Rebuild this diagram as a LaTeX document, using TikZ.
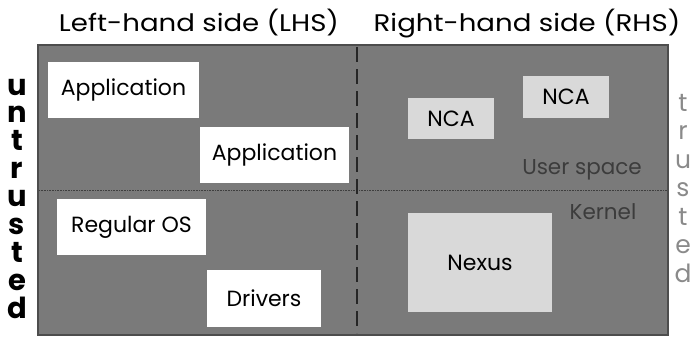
\documentclass[tikz,border=0pt]{standalone}
\usepackage{fontspec}
\setmainfont{Poppins}
\newfontfamily\titlefont{Poppins}[FakeStretch=1.15]
\usetikzlibrary{positioning}

\definecolor{framegray}{HTML}{7A7A7A}
\definecolor{edgegray}{HTML}{4D4D4D}
\definecolor{lightbox}{HTML}{D9D9D9}
\definecolor{layertext}{HTML}{3C3C3C}
\definecolor{trusttext}{HTML}{8A8A8A}

\tikzset{
  plainbox/.style={fill=white, inner sep=0pt, font=\fontsize{22}{26}\selectfont},
  ncabox/.style={fill=lightbox, inner sep=0pt, font=\fontsize{22}{26}\selectfont},
  layerlabel/.style={text=layertext, inner sep=0pt, font=\fontsize{21.5}{26}\selectfont},
  sidetitle/.style={inner sep=0pt, anchor=base, font=\titlefont\fontsize{24}{28}\selectfont}
}

\begin{document}
\begin{tikzpicture}[x=1pt, y=-1pt]
    \useasboundingbox (0,0) rectangle (692,337);

    % The gray frame with the two halves
    \filldraw[fill=framegray, draw=edgegray, line width=2pt] (38,45) rectangle (668,335);

    % Dividers: user space / kernel, and LHS / RHS
    \coordinate (ulayer) at (39,190);
    \coordinate (klayer) at (667,190);
    \draw[edgegray!80!black, densely dotted, line width=0.6pt] (ulayer) -- (klayer);
    \coordinate (topmid) at (357,47);
    \coordinate (botmid) at (357,333);
    \draw[black!85, line width=2.8pt, dash pattern=on 15pt off 7pt] (topmid) -- (botmid);

    % Titles
    \node[sidetitle] (lhs) at (199,32) {Left-hand side (LHS)};
    \node[sidetitle] (rhs) at (527,32) {Right-hand side (RHS)};

    % Untrusted boxes (LHS)
    \node[plainbox, minimum width=151pt, minimum height=56pt] (app1) at (123.5,90) {Application};
    \node[plainbox, minimum width=149pt, minimum height=56pt] (app2) at (274.5,155) {Application};
    \node[plainbox, minimum width=149pt, minimum height=56pt] (regos) at (131.5,227) {Regular OS};
    \node[plainbox, minimum width=114pt, minimum height=57pt] (drivers) at (264,298.5) {Drivers};

    % Trusted boxes (RHS)
    \node[ncabox, minimum width=86pt, minimum height=41pt] (nca1) at (451,118.5) {NCA};
    \node[ncabox, minimum width=86pt, minimum height=42pt] (nca2) at (566,97) {NCA};
    \node[ncabox, minimum width=144pt, minimum height=99pt] (nexus) at (480,262.5) {Nexus};

    % Layer labels
    \node[layerlabel] (uspace) at (582,170) {User space};
    \node[layerlabel] (kernel) at (603,212) {Kernel};

    % Vertical side labels
    \foreach \ch [count=\i from 0] in {u,n,t,r,u,s,t,e,d}
        \node[anchor=base, inner sep=0pt, font=\fontsize{29}{29}\selectfont\bfseries] (ut\i) at (17,{95+27.9*\i}) {\ch};
    \foreach \ch [count=\i from 0] in {t,r,u,s,t,e,d}
        \node[anchor=base, inner sep=0pt, text=trusttext, font=\fontsize{25}{25}\selectfont] (tr\i) at (683,{111+28.5*\i}) {\ch};
\end{tikzpicture}
\end{document}
